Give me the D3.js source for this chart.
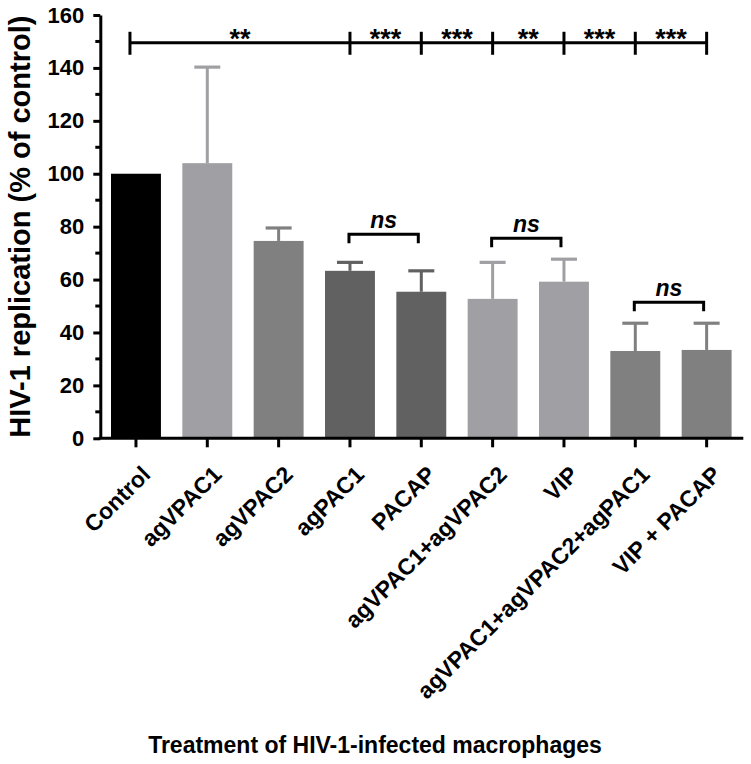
<!DOCTYPE html>
<html><head><meta charset="utf-8">
<script src="https://cdn.jsdelivr.net/npm/d3@7"></script>
<style>
body{margin:0;background:#fff}
svg{display:block}
text{font-family:"Liberation Sans",Arial,sans-serif;font-weight:bold;fill:#000}
</style>
</head><body>
<svg id="chart" width="751" height="764"></svg>
<script>
// ---- data ----
const categories = ["Control","agVPAC1","agVPAC2","agPAC1","PACAP","agVPAC1+agVPAC2","VIP","agVPAC1+agVPAC2+agPAC1","VIP + PACAP"];
const values = [100, 104, 74.6, 63.3, 55.4, 52.7, 59.2, 33.0, 33.4];
const errors = [0, 36.3, 4.9, 3.2, 7.9, 13.8, 8.5, 10.5, 10.1];
const barColors = ["#000000","#a0a0a4","#808080","#616161","#616161","#a0a0a4","#a0a0a4","#808080","#808080"];
const yTicks = [0,20,40,60,80,100,120,140,160];
const yMinorTicks = [10,30,50,70,90,110,130,150];
const topBracketStops = ["Control","agPAC1","PACAP","agVPAC1+agVPAC2","VIP","agVPAC1+agVPAC2+agPAC1","VIP + PACAP"];
const topBracketLabels = ["**","***","***","**","***","***"];
const topBracketValue = 149.5;
const nsPairs = [
  {a:"agPAC1", b:"PACAP", v:77.1, label:"ns"},
  {a:"agVPAC1+agVPAC2", b:"VIP", v:75.6, label:"ns"},
  {a:"agVPAC1+agVPAC2+agPAC1", b:"VIP + PACAP", v:51.4, label:"ns"}
];
const yTitle = "HIV-1 replication (% of control)";
const xTitle = "Treatment of HIV-1-infected macrophages";

// ---- layout ----
const svg = d3.select("#chart");
const x0 = 100.3, x1 = 742.3, yBottom = 438.3, yTop = 15;
const x = d3.scaleBand().domain(categories).range([x0, x1]).padding(0);
const y = d3.scaleLinear().domain([0,160]).range([yBottom, yTop]);
const cx = c => x(c) + x.bandwidth()/2;
const barW = x.bandwidth()*0.70;

// bars
svg.append("g").selectAll("rect").data(categories).join("rect")
  .attr("x", c => cx(c) - barW/2)
  .attr("y", (c,i) => y(values[i]))
  .attr("width", barW)
  .attr("height", (c,i) => y(0) - y(values[i]))
  .attr("fill", (c,i) => barColors[i]);

// error bars (upper only)
const eg = svg.append("g");
categories.forEach((c,i) => {
  if (!errors[i]) return;
  const top = y(values[i] + errors[i]);
  eg.append("line").attr("x1", cx(c)).attr("x2", cx(c))
    .attr("y1", y(values[i])).attr("y2", top)
    .attr("stroke", barColors[i]).attr("stroke-width", 3);
  eg.append("line").attr("x1", cx(c)-13).attr("x2", cx(c)+13)
    .attr("y1", top).attr("y2", top)
    .attr("stroke", barColors[i]).attr("stroke-width", 3.2);
});

// y axis
const yAxis = svg.append("g").attr("transform", `translate(${x0},0)`)
  .call(d3.axisLeft(y).tickValues(yTicks).tickSize(7).tickPadding(9).tickSizeOuter(0));
yAxis.select(".domain").attr("stroke","#000").attr("stroke-width",3);
yAxis.selectAll(".tick line").attr("stroke","#000").attr("stroke-width",3);
yAxis.selectAll(".tick text").attr("font-size",22).attr("fill","#000");
yAxis.selectAll(".minor").data(yMinorTicks).join("line")
  .attr("x1",-5).attr("x2",0).attr("y1",d=>y(d)).attr("y2",d=>y(d))
  .attr("stroke","#000").attr("stroke-width",3);

// x axis
const xAxis = svg.append("g").attr("transform", `translate(0,${yBottom})`)
  .call(d3.axisBottom(x).tickSize(9).tickSizeOuter(0).tickFormat(""));
xAxis.select(".domain").attr("stroke","#000").attr("stroke-width",3)
  .attr("d", `M${x0-1.5},0H${x1+1}`);
xAxis.selectAll(".tick line").attr("stroke","#000").attr("stroke-width",3);
xAxis.selectAll(".tick").append("text")
  .attr("transform","translate(10,32) rotate(-45)")
  .attr("text-anchor","end")
  .attr("dy","0.35em")
  .attr("font-size",23)
  .text(d => d);

// top significance bracket
const tb = svg.append("g");
const ty = y(topBracketValue);
const stopX = topBracketStops.map((c,i) => i === 0 ? cx(c) - 6 : cx(c));
tb.append("line").attr("x1", stopX[0]).attr("x2", stopX[stopX.length-1])
  .attr("y1", ty).attr("y2", ty).attr("stroke","#000").attr("stroke-width",3);
stopX.forEach(sx => {
  tb.append("line").attr("x1", sx).attr("x2", sx).attr("y1", ty-11).attr("y2", ty+12)
    .attr("stroke","#000").attr("stroke-width",3);
});
topBracketLabels.forEach((lab,i) => {
  tb.append("text").attr("x", (stopX[i]+stopX[i+1])/2).attr("y", ty+5)
    .attr("text-anchor","middle").attr("font-size",27).text(lab);
});

// ns brackets
const nb = svg.append("g");
nsPairs.forEach(p => {
  const xa = cx(p.a) - 1, xb = cx(p.b) - 3, yy = y(p.v);
  nb.append("path").attr("d", `M${xa},${yy+9}V${yy}H${xb}V${yy+9}`)
    .attr("fill","none").attr("stroke","#000").attr("stroke-width",3);
  nb.append("text").attr("x",(xa+xb)/2).attr("y", yy-6).attr("text-anchor","middle")
    .attr("font-size",23).attr("font-style","italic").attr("font-weight","normal").text(p.label);
});

// titles
svg.append("text").attr("transform", `translate(30,${(yTop+yBottom)/2}) rotate(-90)`)
  .attr("text-anchor","middle").attr("font-size",29).text(yTitle);
svg.append("text").attr("x", 375).attr("y", 753).attr("text-anchor","middle")
  .attr("font-size",23).text(xTitle);
</script>
</body></html>
